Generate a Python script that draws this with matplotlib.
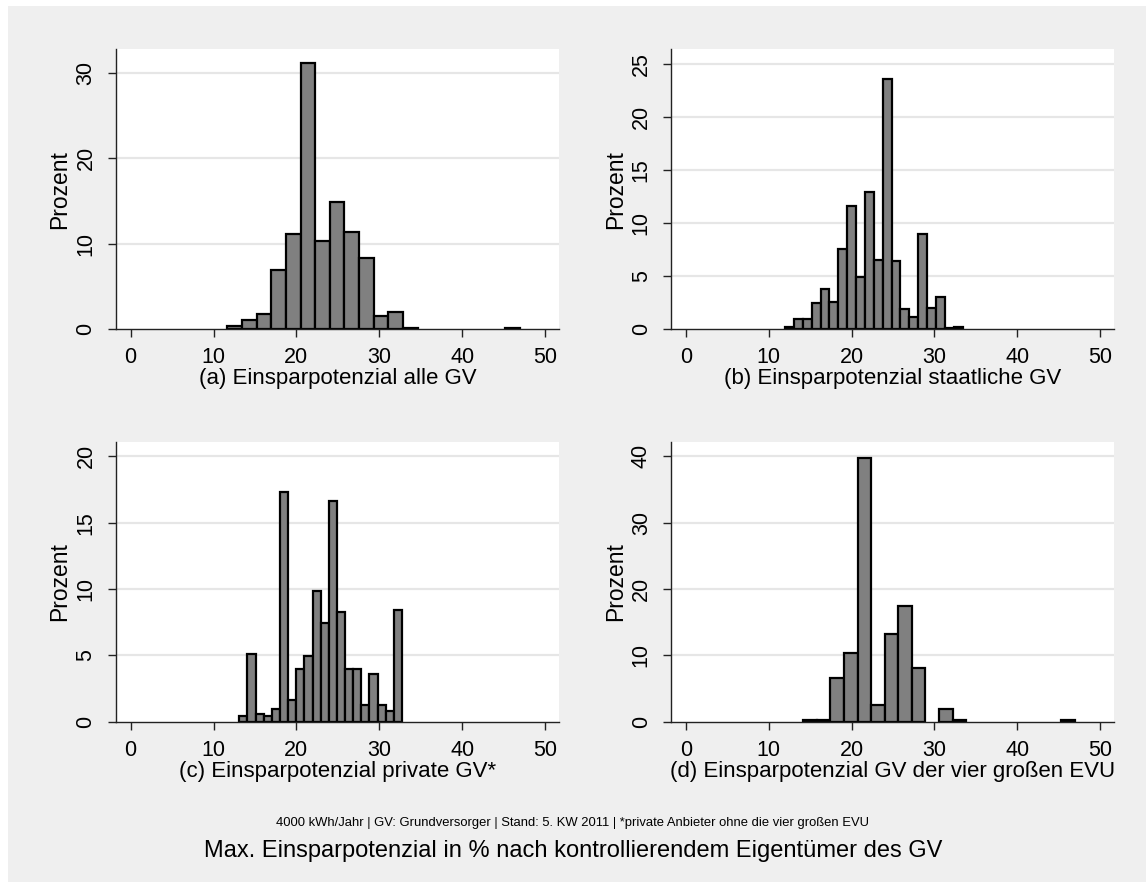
import numpy as np
import matplotlib.pyplot as plt
from matplotlib.patches import Rectangle

plt.rcParams['font.family'] = ['Liberation Sans', 'DejaVu Sans']

# histogram bins: lower edge of first bin, bin width, percent per bin
a_start, a_width = 11.67, 1.766
a_pct = [0.35, 1.1, 1.8, 6.9, 11.15, 31.2, 10.3, 14.9, 11.4, 8.4,
         1.6, 2.0, 0.15, 0, 0, 0, 0, 0, 0, 0.15]

b_start, b_width = 11.96, 1.073
b_pct = [0.2, 1.0, 1.0, 2.5, 3.77, 2.58, 7.57, 11.6, 4.9, 12.97,
         6.53, 23.55, 6.44, 1.95, 1.13, 8.95, 2.04, 3.08, 0.15, 0.2]

c_start, c_width = 13.11, 0.982
c_pct = [0.43, 5.13, 0.6, 0.43, 0.98, 17.3, 1.6, 3.94, 4.92, 9.82,
         7.46, 16.63, 8.27, 3.94, 3.94, 1.28, 3.57, 1.28, 0.78, 8.44]

d_start, d_width = 14.17, 1.64
d_pct = [0.25, 0.25, 6.53, 10.4, 39.7, 2.46, 13.2, 17.44, 8.04, 0,
         1.9, 0.25, 0, 0, 0, 0, 0, 0, 0, 0.25]

titles = ['(a) Einsparpotenzial alle GV',
          '(b) Einsparpotenzial staatliche GV',
          '(c) Einsparpotenzial private GV*',
          '(d) Einsparpotenzial GV der vier großen EVU']
yticks = [[0, 10, 20, 30], [0, 5, 10, 15, 20, 25],
          [0, 5, 10, 15, 20], [0, 10, 20, 30, 40]]
ytops = [32.8, 26.4, 21.1, 42.2]
xticks = [0, 10, 20, 30, 40, 50]

note = '4000 kWh/Jahr | GV: Grundversorger | Stand: 5. KW 2011 | *private Anbieter ohne die vier großen EVU'
main_title = 'Max. Einsparpotenzial in % nach kontrollierendem Eigentümer des GV'

W, H = 1146, 882
bg = '#efefef'
fig = plt.figure(figsize=(W / 100, H / 100), dpi=100, facecolor='white')
fig.patches.append(Rectangle((8 / W, 0), 1 - 8 / W, 1 - 6 / H,
                             transform=fig.transFigure, facecolor=bg,
                             edgecolor='none', zorder=-10))

# plot regions in pixels: left, top, right, bottom
boxes = [(116, 49, 559, 329.3), (671.3, 49, 1114, 329.3),
         (116, 441.7, 559, 721.7), (671.3, 441.7, 1114, 721.7)]
hists = [(a_start, a_width, a_pct), (b_start, b_width, b_pct),
         (c_start, c_width, c_pct), (d_start, d_width, d_pct)]

for i, (l, t, r, b) in enumerate(boxes):
    ax = fig.add_axes([l / W, (H - b) / H, (r - l) / W, (b - t) / H])
    ax.set_facecolor('white')
    start, width, pct = hists[i]
    pct = np.array(pct)
    edges = start + width * np.arange(len(pct))
    keep = pct > 0
    ax.bar(edges[keep], pct[keep], width=width, align='edge',
           color='#808080', edgecolor='black', linewidth=1.6, zorder=3)
    ax.set_xlim(-1.77, 51.7)
    ax.set_ylim(0, ytops[i])
    ax.set_xticks(xticks)
    ax.set_yticks(yticks[i])
    for y in yticks[i][1:]:
        ax.axhline(y, color='#e6e6e6', linewidth=1.6, zorder=1)
    for s in ['top', 'right']:
        ax.spines[s].set_visible(False)
    for s in ['left', 'bottom']:
        ax.spines[s].set_color('#222222')
        ax.spines[s].set_linewidth(1.0)
        ax.spines[s].set_zorder(4)
    ax.tick_params(axis='both', length=5.5, width=1.0, color='#222222',
                   labelsize=15.5)
    ax.tick_params(axis='x', pad=7.5)
    ax.tick_params(axis='y', labelrotation=90, pad=8.5)
    for lab in ax.get_yticklabels():
        lab.set_va('center')
    ax.set_ylabel('Prozent', fontsize=16.5, labelpad=3)
    ax.set_xlabel(titles[i], fontsize=16, labelpad=0)

fig.text(0.5, 1 - 823 / H, note, ha='center', va='center', fontsize=9.4)
fig.text(0.5, 1 - 851 / H, main_title, ha='center', va='center', fontsize=17)

fig.savefig('out.png', dpi=100, facecolor=fig.get_facecolor())
